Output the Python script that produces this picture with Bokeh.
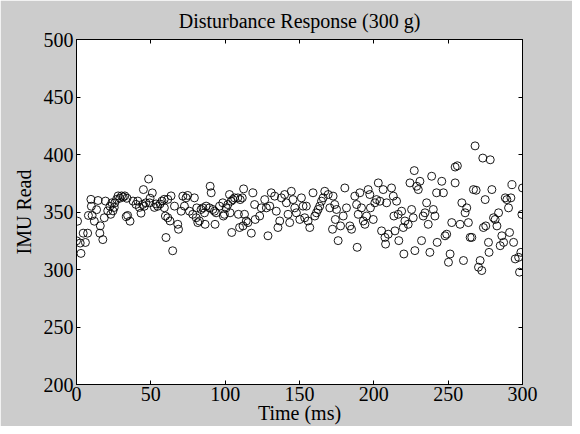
from bokeh.plotting import figure
from bokeh.models import Range1d, FixedTicker, LinearAxis, CustomJSTickFormatter
from bokeh.embed import file_html
from bokeh.resources import INLINE

title_text = "Disturbance Response (300 g)"

time_ms = [
    0.0, 0.7, 2.5, 3.0, 4.5, 6.0, 7.5, 8.0, 9.7, 10.0, 10.5, 12.0, 13.5, 14.5, 15.7, 16.0,
    17.7, 18.7, 19.5, 21.0, 22.5, 23.0, 23.8, 24.5, 25.4, 25.8, 27.0, 28.0, 29.2, 30.3,
    31.4, 32.5, 33.5, 34.0, 34.4, 36.0, 38.0, 40.0, 41.2, 42.3, 43.4, 44.5, 45.0, 45.6,
    46.7, 48.5, 49.2, 49.5, 51.0, 52.4, 53.5, 54.6, 56.2, 57.5, 59.0, 59.8, 60.2,
    59.1, 61.4, 61.4, 62.9, 63.6, 64.7, 65.9, 68.1, 68.6, 70.4, 71.5, 72.6, 73.7, 74.8,
    76.0, 78.2, 79.3, 80.5, 80.9, 81.6, 82.7, 83.8, 85.0, 86.1, 86.5, 87.2, 89.4, 89.9,
    90.6, 91.7, 92.8, 93.2, 93.9, 96.2, 98.4, 98.8, 99.5, 100.7, 101.8, 102.9, 103.3,
    104.0, 104.4, 105.2, 106.3, 108.5, 108.9, 109.7, 110.1, 111.5, 112.0, 112.4, 113.0,
    114.2, 115.3, 117.6, 118.7, 119.8, 120.2,
    123.2, 124.3, 126.6, 127.7, 130.0, 131.0, 133.3, 134.4, 136.7, 135.5, 128.8,
    137.8, 140.0, 141.2, 142.3, 143.4, 144.5, 145.6, 146.8, 147.9, 150.2, 151.3, 152.4,
    153.5, 154.6, 155.8, 156.9, 159.1, 160.3, 161.4, 162.5, 163.6, 164.8, 165.9, 167.0,
    169.3, 170.4, 172.6, 173.7, 174.9, 176.0, 174.1, 172.2, 177.6, 179.4, 180.5, 181.6,
    183.9, 185.0, 187.2, 188.4, 189.5, 190.6, 191.7, 192.9, 194.0, 195.1, 196.2, 197.3,
    197.7, 199.6, 200.7, 201.8, 203.0, 204.1, 205.2, 206.3, 207.5, 207.9, 208.6, 209.7,
    211.9, 213.1, 213.5, 214.2, 215.3, 216.4, 216.8, 218.7, 219.8, 220.2, 220.9, 223.1,
    224.3, 225.4, 226.5, 227.6, 228.8, 229.9, 231.0, 232.1, 233.2, 234.4, 235.5, 236.6,
    237.7, 238.9, 240.0, 241.1, 242.2, 242.6, 188.8, 227.2,
    245.7, 246.8, 247.9, 249.0, 250.2, 251.3, 252.4, 254.7, 254.7, 256.2, 258.0, 259.2,
    260.3, 261.4, 262.5, 263.6, 264.8, 265.9, 267.0, 268.8, 270.4, 271.5, 272.6, 273.7,
    274.9, 275.3, 277.1, 277.5, 278.3, 279.4, 280.5, 281.6, 282.8, 283.9, 285.0, 286.1,
    287.3, 288.4, 289.5, 290.6, 291.3, 292.2, 292.9, 294.0, 295.1, 297.4, 298.0, 298.9,
    299.6, 300.0, 268.1, 273.3,
]
imu_read = [
    325, 342, 323, 314, 331.6, 323.5, 331.6, 347, 361, 355, 347, 342, 352, 360, 331.6, 338,
    326, 345, 359.5, 351, 355, 348, 358, 351, 354, 358, 361, 364, 362, 364,
    363, 364, 346, 362, 347, 342, 359.5, 356.6, 359.5, 354, 349, 356.6, 369.5, 355,
    358, 378.7, 358, 362, 366.6, 354, 357, 355, 357, 359.5, 361, 346.5, 327.8,
    353.7, 361, 345, 342.2, 364, 316.3, 355.1, 339.3, 335, 350.7, 363.8, 355.1, 362.3, 364.4,
    350.7, 348, 362.3, 345, 353.6, 340.8, 342.2, 352.2, 353.6, 349.3, 339.3, 355.1, 353.6, 372.4,
    366.7, 352.2, 350.7, 339.3, 349.3, 355.1, 358, 346.5, 348, 353.6, 356.5, 365.2, 349.3,
    359.4, 332.2, 360.8, 362.3, 362.3, 348, 336.5, 360.8, 362.3, 337.9, 370.1, 348,
    342.2, 340.8, 331.6, 366.7, 356.5, 343.5,
    346.5, 353.6, 360.8, 353.6, 355.1, 366.7, 363.8, 350.7, 342.2, 336.5, 329.3,
    362.3, 365.2, 358, 348, 340.8, 368, 360.8, 353.6, 349.3, 343.5, 362.3, 355.1,
    345, 355.1, 342.2, 336.5, 366.7, 346.5, 349.3, 352.2, 355.1, 359.4, 362.3, 368,
    365.2, 353.6, 363.8, 356.5, 352.2, 325.1, 343.5, 335, 337.9, 346.5, 370.9, 353.6,
    337.9, 335, 363.8, 356.5, 348, 366.7, 353.6, 342.2, 339.3, 346.5, 369.5, 365.2,
    353.6, 343.5, 358, 360.8, 375.3, 359.4, 333.6, 369.5, 327.9, 322.1, 358, 330.7,
    370.9, 363.8, 346.5, 333.6, 359.4, 348, 325.1, 350.7, 336.5, 313.5, 342.2, 339.3,
    375.3, 352.2, 345, 316.4, 372.4, 369.5, 376.7, 325.1, 346.5, 349.3, 358, 339.3,
    314.9, 381.1, 352.2, 346.5, 366.7, 323.6, 319.3, 386,
    376.7, 366.7, 329.3, 330.7, 306.3, 313.5, 340.8, 375.3, 389.1, 390.2, 339.3, 358,
    307.8, 349.3, 353.6, 340.8, 327.9, 327.9, 369.5, 368.9, 302, 307.8, 299.1, 336.5,
    360.8, 337.9, 323.6, 314.9, 395.4, 369.5, 345, 343.5, 337.9, 349.3, 320.7, 329.3,
    323.6, 362.3, 360.8, 353.6, 332.2, 362.3, 373.8, 323.6, 309.2, 310.6, 297.7, 314.9,
    347.9, 370.9, 407.5, 396.9,
]

x_ticks = [0, 50, 100, 150, 200, 250, 300]
y_ticks = [200, 250, 300, 350, 400, 450, 500]

FONT = "Liberation Serif"
FS = "20px"

p = figure(width=572, height=426, output_backend="svg", toolbar_location=None,
           x_range=Range1d(0, 300), y_range=Range1d(200, 500),
           title=title_text,
           min_border_left=76, min_border_right=50, min_border_top=39, min_border_bottom=39)
p.border_fill_color = "#cccccc"
p.background_fill_color = "white"
p.outline_line_color = "black"
p.grid.visible = False

p.title.align = "center"
p.title.text_font = FONT
p.title.text_font_size = FS
p.title.text_font_style = "normal"
p.title.text_color = "black"
p.title.standoff = 15

p.add_layout(LinearAxis(formatter=CustomJSTickFormatter(code="return ''")), "above")
p.add_layout(LinearAxis(formatter=CustomJSTickFormatter(code="return ''")), "right")

for ax in p.xaxis:
    ax.ticker = FixedTicker(ticks=x_ticks)
for ax in p.yaxis:
    ax.ticker = FixedTicker(ticks=y_ticks)
for ax in list(p.xaxis) + list(p.yaxis):
    ax.major_tick_in = 4
    ax.major_tick_out = 0
    ax.minor_tick_in = 0
    ax.minor_tick_out = 0
    ax.axis_line_color = "black"
    ax.major_tick_line_color = "black"
    ax.major_label_text_font = FONT
    ax.major_label_text_font_size = FS
    ax.major_label_text_color = "black"
    ax.axis_label_text_font = FONT
    ax.axis_label_text_font_size = FS
    ax.axis_label_text_font_style = "normal"
    ax.axis_label_text_color = "black"

p.above[-1].major_label_standoff = 0
p.right[-1].major_label_standoff = 0

p.below[0].axis_label = "Time (ms)"
p.below[0].major_label_standoff = 2
p.below[0].axis_label_standoff = -2
p.left[0].axis_label = "IMU Read"
p.left[0].major_label_standoff = 3
p.left[0].axis_label_standoff = 6

p.scatter(time_ms, imu_read, marker="circle", size=8, fill_color=None,
          line_color="black", line_width=0.9)

open("out.html", "w").write(file_html(p, INLINE))
